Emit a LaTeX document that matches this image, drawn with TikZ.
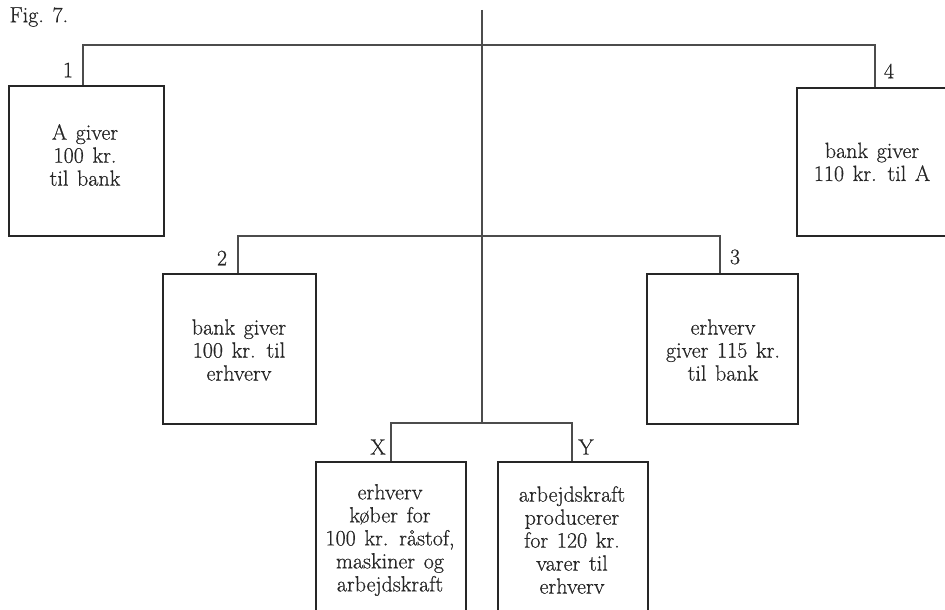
\documentclass[tikz,border=0pt]{standalone}
\usepackage{fontspec}
\setmainfont{Latin Modern Roman}[FakeBold=0.6,WordSpace=1.3]
\begin{document}
\begin{tikzpicture}[x=1pt,y=-1pt,
  box/.style={draw=black!85,line width=1.6pt,rectangle,inner sep=0pt,anchor=north west},
  boxtext/.style={align=center,font=\fontsize{22}{23}\selectfont,text=black!85},
  lbl/.style={font=\fontsize{22}{23}\selectfont,text=black!85},
  conn/.style={draw=black!70,line width=1.2pt}]
\useasboundingbox (0,0) rectangle (945,610);
\clip (0,0) rectangle (945,610);
\node[lbl,anchor=west] (fig) at (6,17) {Fig.\ 7.};
% boxes
\node[box,minimum width=155pt,minimum height=150pt] (b1) at (8,85) {};
\node[box,minimum width=160pt,minimum height=148pt] (b4) at (796,87) {};
\node[box,minimum width=153pt,minimum height=150pt] (b2) at (162,273) {};
\node[box,minimum width=151pt,minimum height=150pt] (b3) at (646,273) {};
\node[box,minimum width=150pt,minimum height=170pt] (bx) at (315,461) {};
\node[box,minimum width=150pt,minimum height=170pt] (by) at (497,461) {};
% texts
\node[boxtext] (t1) at (85,155) {A giver\\100 kr.\\til bank};
\node[boxtext] (t4) at (872,162) {bank giver\\110 kr. til A};
\node[boxtext] (t2) at (239,350) {bank giver\\100 kr. til\\erhverv};
\node[boxtext] (t3) at (723,350) {erhverv\\giver 115 kr.\\til bank};
\node[boxtext] (tx) at (390,540) {erhverv\\k\o ber for\\100 kr. r\aa stof,\\maskiner og\\arbejdskraft};
\node[boxtext] (ty) at (572,540) {arbejdskraft\\producerer\\for 120 kr.\\varer til\\erhverv};
% labels
\node[lbl] (l1) at (68,70) {1};
\node[lbl] (l4) at (889,71) {4};
\node[lbl] (l2) at (222,258) {2};
\node[lbl] (l3) at (735,257) {3};
\node[lbl] (lx) at (378,447) {X};
\node[lbl] (ly) at (586,447) {Y};
% connectors
\coordinate (top) at (482,10);
\coordinate (bot) at (482,423);
\coordinate (h1) at (482,45);
\coordinate (h2) at (482,236);
\draw[conn] (top) -- (bot);
\draw[conn] ([xshift=75pt]b1.north west) coordinate (p1) |- (h1) -| ([xshift=79pt]b4.north west) coordinate (p4);
\draw[conn] ([xshift=76pt]b2.north west) coordinate (p2) |- (h2) -| ([xshift=74pt]b3.north west) coordinate (p3);
\draw[conn] ([xshift=76pt]bx.north west) coordinate (px) |- (bot) -| ([xshift=75pt]by.north west) coordinate (py);
\end{tikzpicture}
\end{document}
